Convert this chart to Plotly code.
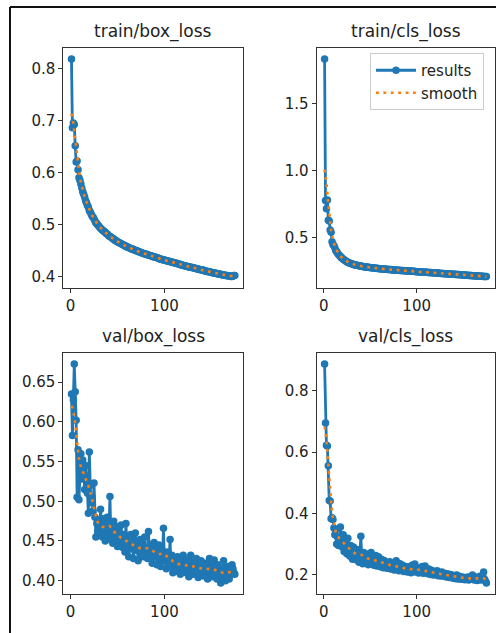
import numpy as np
import plotly.graph_objects as go

# ---------------------------------------------------------------- data
epochs = list(range(1, 176))

train_box_loss = [
    0.818, 0.686, 0.695, 0.692, 0.651, 0.620, 0.622, 0.605, 0.590, 0.585,
    0.578, 0.570, 0.563, 0.558, 0.553, 0.546, 0.542, 0.537, 0.533, 0.527,
    0.524, 0.520, 0.516, 0.514, 0.511, 0.507, 0.503, 0.502, 0.499, 0.497,
    0.495, 0.493, 0.491, 0.489, 0.488, 0.486, 0.485, 0.483, 0.482, 0.480,
    0.478, 0.477, 0.476, 0.474, 0.473, 0.472, 0.470, 0.470, 0.468, 0.467,
    0.466, 0.465, 0.464, 0.463, 0.462, 0.461, 0.460, 0.459, 0.459, 0.457,
    0.457, 0.456, 0.455, 0.454, 0.453, 0.453, 0.452, 0.451, 0.450, 0.450,
    0.449, 0.448, 0.448, 0.447, 0.446, 0.446, 0.445, 0.444, 0.444, 0.443,
    0.443, 0.442, 0.441, 0.441, 0.440, 0.440, 0.439, 0.438, 0.438, 0.437,
    0.437, 0.436, 0.436, 0.435, 0.434, 0.434, 0.433, 0.433, 0.432, 0.432,
    0.431, 0.431, 0.430, 0.430, 0.429, 0.429, 0.428, 0.428, 0.427, 0.427,
    0.426, 0.426, 0.425, 0.425, 0.424, 0.424, 0.423, 0.423, 0.422, 0.422,
    0.421, 0.421, 0.420, 0.420, 0.419, 0.419, 0.418, 0.418, 0.418, 0.417,
    0.417, 0.416, 0.416, 0.415, 0.415, 0.414, 0.414, 0.413, 0.413, 0.413,
    0.412, 0.412, 0.411, 0.411, 0.410, 0.410, 0.410, 0.409, 0.409, 0.408,
    0.408, 0.407, 0.407, 0.407, 0.406, 0.406, 0.405, 0.405, 0.405, 0.404,
    0.404, 0.403, 0.403, 0.403, 0.402, 0.402, 0.402, 0.401, 0.401, 0.401,
    0.400, 0.400, 0.401, 0.402, 0.402,
]

train_cls_loss = [
    1.830, 0.777, 0.715, 0.780, 0.630, 0.625, 0.557, 0.540, 0.470, 0.450,
    0.440, 0.425, 0.405, 0.395, 0.385, 0.375, 0.368, 0.360, 0.352, 0.347,
    0.340, 0.336, 0.330, 0.325, 0.322, 0.318, 0.315, 0.312, 0.309, 0.306,
    0.304, 0.302, 0.300, 0.298, 0.296, 0.295, 0.293, 0.292, 0.290, 0.289,
    0.288, 0.287, 0.285, 0.284, 0.283, 0.282, 0.281, 0.280, 0.279, 0.278,
    0.277, 0.276, 0.276, 0.275, 0.274, 0.273, 0.273, 0.272, 0.271, 0.270,
    0.270, 0.269, 0.268, 0.268, 0.267, 0.266, 0.266, 0.265, 0.264, 0.264,
    0.263, 0.263, 0.262, 0.261, 0.261, 0.260, 0.260, 0.259, 0.259, 0.258,
    0.258, 0.257, 0.257, 0.256, 0.256, 0.255, 0.255, 0.254, 0.254, 0.253,
    0.253, 0.252, 0.252, 0.251, 0.251, 0.250, 0.250, 0.249, 0.249, 0.248,
    0.248, 0.247, 0.247, 0.246, 0.246, 0.245, 0.245, 0.244, 0.244, 0.243,
    0.243, 0.242, 0.242, 0.241, 0.241, 0.240, 0.240, 0.239, 0.239, 0.238,
    0.238, 0.237, 0.237, 0.236, 0.236, 0.235, 0.235, 0.234, 0.234, 0.233,
    0.233, 0.232, 0.232, 0.231, 0.231, 0.230, 0.230, 0.229, 0.229, 0.228,
    0.228, 0.227, 0.227, 0.226, 0.226, 0.225, 0.225, 0.224, 0.224, 0.223,
    0.223, 0.222, 0.222, 0.221, 0.221, 0.220, 0.220, 0.219, 0.219, 0.218,
    0.218, 0.217, 0.217, 0.216, 0.216, 0.215, 0.215, 0.214, 0.214, 0.213,
    0.213, 0.212, 0.212, 0.211, 0.211,
]

val_box_loss = [
    0.635, 0.583, 0.628, 0.673, 0.638, 0.602, 0.505, 0.565, 0.502, 0.548,
    0.560, 0.528, 0.552, 0.540, 0.515, 0.545, 0.532, 0.510, 0.485, 0.562,
    0.520, 0.498, 0.505, 0.488, 0.523, 0.480, 0.455, 0.472, 0.462, 0.476,
    0.458, 0.490, 0.468, 0.455, 0.478, 0.462, 0.450, 0.472, 0.480, 0.458,
    0.466, 0.506, 0.452, 0.470, 0.447, 0.475, 0.460, 0.452, 0.468, 0.443,
    0.462, 0.455, 0.448, 0.470, 0.442, 0.458, 0.450, 0.436, 0.472, 0.445,
    0.452, 0.430, 0.448, 0.458, 0.440, 0.452, 0.428, 0.446, 0.460, 0.438,
    0.445, 0.425, 0.440, 0.452, 0.436, 0.447, 0.430, 0.442, 0.455, 0.435,
    0.441, 0.428, 0.462, 0.438, 0.433, 0.445, 0.422, 0.440, 0.448, 0.430,
    0.437, 0.420, 0.435, 0.445, 0.428, 0.418, 0.440, 0.432, 0.466, 0.425,
    0.430, 0.415, 0.436, 0.422, 0.426, 0.452, 0.418, 0.432, 0.410, 0.424,
    0.428, 0.420, 0.412, 0.430, 0.418, 0.425, 0.408, 0.428, 0.420, 0.432,
    0.415, 0.422, 0.410, 0.426, 0.418, 0.405, 0.424, 0.432, 0.414, 0.420,
    0.408, 0.423, 0.416, 0.428, 0.412, 0.404, 0.420, 0.415, 0.425, 0.410,
    0.418, 0.406, 0.422, 0.412, 0.416, 0.402, 0.420, 0.428, 0.410, 0.415,
    0.405, 0.418, 0.426, 0.408, 0.414, 0.402, 0.420, 0.410, 0.416, 0.397,
    0.412, 0.404, 0.425, 0.408, 0.400, 0.415, 0.406, 0.418, 0.402, 0.412,
    0.408, 0.420, 0.415, 0.410, 0.408,
]

val_cls_loss = [
    0.888, 0.695, 0.622, 0.620, 0.555, 0.442, 0.440, 0.382, 0.385, 0.380,
    0.352, 0.330, 0.345, 0.300, 0.322, 0.295, 0.315, 0.355, 0.310, 0.290,
    0.330, 0.275, 0.312, 0.300, 0.268, 0.318, 0.285, 0.260, 0.295, 0.272,
    0.250, 0.290, 0.265, 0.278, 0.248, 0.282, 0.262, 0.240, 0.270, 0.325,
    0.255, 0.235, 0.272, 0.250, 0.262, 0.240, 0.258, 0.232, 0.268, 0.245,
    0.272, 0.238, 0.255, 0.230, 0.248, 0.262, 0.228, 0.245, 0.258, 0.235,
    0.225, 0.250, 0.238, 0.222, 0.246, 0.232, 0.240, 0.220, 0.236, 0.228,
    0.242, 0.218, 0.232, 0.225, 0.238, 0.215, 0.230, 0.245, 0.220, 0.228,
    0.212, 0.235, 0.222, 0.218, 0.230, 0.210, 0.226, 0.215, 0.222, 0.208,
    0.225, 0.214, 0.220, 0.206, 0.230, 0.212, 0.218, 0.234, 0.208, 0.222,
    0.214, 0.205, 0.220, 0.210, 0.216, 0.226, 0.204, 0.218, 0.228, 0.206,
    0.212, 0.202, 0.218, 0.208, 0.200, 0.214, 0.206, 0.198, 0.210, 0.204,
    0.200, 0.212, 0.196, 0.206, 0.202, 0.195, 0.208, 0.200, 0.194, 0.204,
    0.198, 0.192, 0.202, 0.196, 0.190, 0.200, 0.194, 0.198, 0.188, 0.196,
    0.192, 0.186, 0.198, 0.190, 0.185, 0.194, 0.188, 0.184, 0.192, 0.186,
    0.190, 0.183, 0.188, 0.185, 0.192, 0.182, 0.187, 0.190, 0.184, 0.198,
    0.186, 0.182, 0.192, 0.184, 0.180, 0.190, 0.185, 0.194, 0.182, 0.188,
    0.196, 0.208, 0.184, 0.178, 0.172,
]

panel_titles = ["train/box_loss", "train/cls_loss", "val/box_loss", "val/cls_loss"]
x_tick_values = [0, 100]
x_tick_labels = ["0", "100"]
y_tick_values = [
    [0.4, 0.5, 0.6, 0.7, 0.8],
    [0.5, 1.0, 1.5],
    [0.40, 0.45, 0.50, 0.55, 0.60, 0.65],
    [0.2, 0.4, 0.6, 0.8],
]
y_tick_labels = [
    ["0.4", "0.5", "0.6", "0.7", "0.8"],
    ["0.5", "1.0", "1.5"],
    ["0.40", "0.45", "0.50", "0.55", "0.60", "0.65"],
    ["0.2", "0.4", "0.6", "0.8"],
]
series = [train_box_loss, train_cls_loss, val_box_loss, val_cls_loss]


# ---------------------------------------------------------------- helpers
def gaussian_smooth(values, sigma=3.0):
    """1-D Gaussian filter with mirrored edges (same as scipy's 'reflect')."""
    y = np.asarray(values, dtype=float)
    radius = int(4 * sigma + 0.5)
    k = np.arange(-radius, radius + 1)
    w = np.exp(-0.5 * (k / sigma) ** 2)
    w /= w.sum()
    padded = np.pad(y, radius, mode="symmetric")
    return np.convolve(padded, w, mode="valid")


def padded_range(lo, hi, frac=0.05):
    span = hi - lo
    return [lo - frac * span, hi + frac * span]


W, H = 496, 633
BLUE = "#1f77b4"
ORANGE = "#ff7f0e"
INK = "#222222"
SPINE = "#333333"
FONT = "DejaVu Sans"

# subplot boxes in pixels: (left, right, top, bottom)
boxes = [
    (63.3, 243.0, 48.0, 287.5),
    (316.5, 494.5, 48.0, 287.5),
    (63.3, 243.0, 353.0, 594.0),
    (316.5, 494.5, 353.0, 594.0),
]

fig = go.Figure()
annotations = []

for i, (vals, title) in enumerate(zip(series, panel_titles)):
    n = i + 1
    xa = "x" if n == 1 else f"x{n}"
    ya = "y" if n == 1 else f"y{n}"
    smooth = gaussian_smooth(vals)

    fig.add_trace(go.Scatter(
        x=epochs, y=vals, mode="lines+markers", name="results",
        line=dict(color=BLUE, width=2.8),
        marker=dict(color=BLUE, size=7.5, line=dict(width=0)),
        xaxis=xa, yaxis=ya, showlegend=(n == 2), legendrank=1,
    ))
    fig.add_trace(go.Scatter(
        x=epochs, y=smooth, mode="lines", name="smooth",
        line=dict(color=ORANGE, width=2.6, dash="2.8px,4.6px"),
        xaxis=xa, yaxis=ya, showlegend=(n == 2), legendrank=2,
    ))

    left, right, top, bottom = boxes[i]
    lo = min(min(vals), float(smooth.min()))
    hi = max(max(vals), float(smooth.max()))

    axis_common = dict(
        showline=True, mirror=True, linecolor=SPINE, linewidth=1,
        ticks="outside", ticklen=4, tickwidth=1, tickcolor=SPINE,
        showgrid=False, zeroline=False,
        tickfont=dict(family=FONT, size=15, color=INK),
    )
    fig.layout[f"xaxis{'' if n == 1 else n}"] = dict(
        axis_common,
        domain=[left / W, right / W],
        range=padded_range(epochs[0], epochs[-1]),
        tickvals=x_tick_values, ticktext=x_tick_labels,
        anchor=ya,
    )
    fig.layout[f"yaxis{'' if n == 1 else n}"] = dict(
        axis_common,
        domain=[1 - bottom / H, 1 - top / H],
        range=padded_range(lo, hi),
        tickvals=y_tick_values[i], ticktext=y_tick_labels[i],
        anchor=xa,
    )
    annotations.append(dict(
        text=title, xref="paper", yref="paper",
        x=(left + right) / 2 / W, y=1 - top / H,
        xanchor="center", yanchor="bottom", yshift=4, showarrow=False,
        font=dict(family=FONT, size=17, color=INK),
    ))

# outer frame around the figure (top and left edges)
shapes = [
    dict(type="line", xref="paper", yref="paper",
         x0=10 / W, x1=1.02, y0=1 - 7 / H, y1=1 - 7 / H,
         line=dict(color="#111111", width=2)),
    dict(type="line", xref="paper", yref="paper",
         x0=10 / W, x1=10 / W, y0=1 - 7 / H, y1=-0.02,
         line=dict(color="#111111", width=2)),
]

fig.update_layout(
    width=W, height=H,
    margin=dict(l=0, r=0, t=0, b=0),
    paper_bgcolor="white", plot_bgcolor="white",
    annotations=annotations, shapes=shapes,
    showlegend=True,
    legend=dict(
        x=370 / W, y=1 - 53 / H, xanchor="left", yanchor="top",
        bgcolor="rgba(255,255,255,0.85)", bordercolor="#cccccc", borderwidth=1,
        font=dict(family=FONT, size=15, color=INK),
        tracegroupgap=0, itemwidth=40,
    ),
)

fig.write_html("out.html")
